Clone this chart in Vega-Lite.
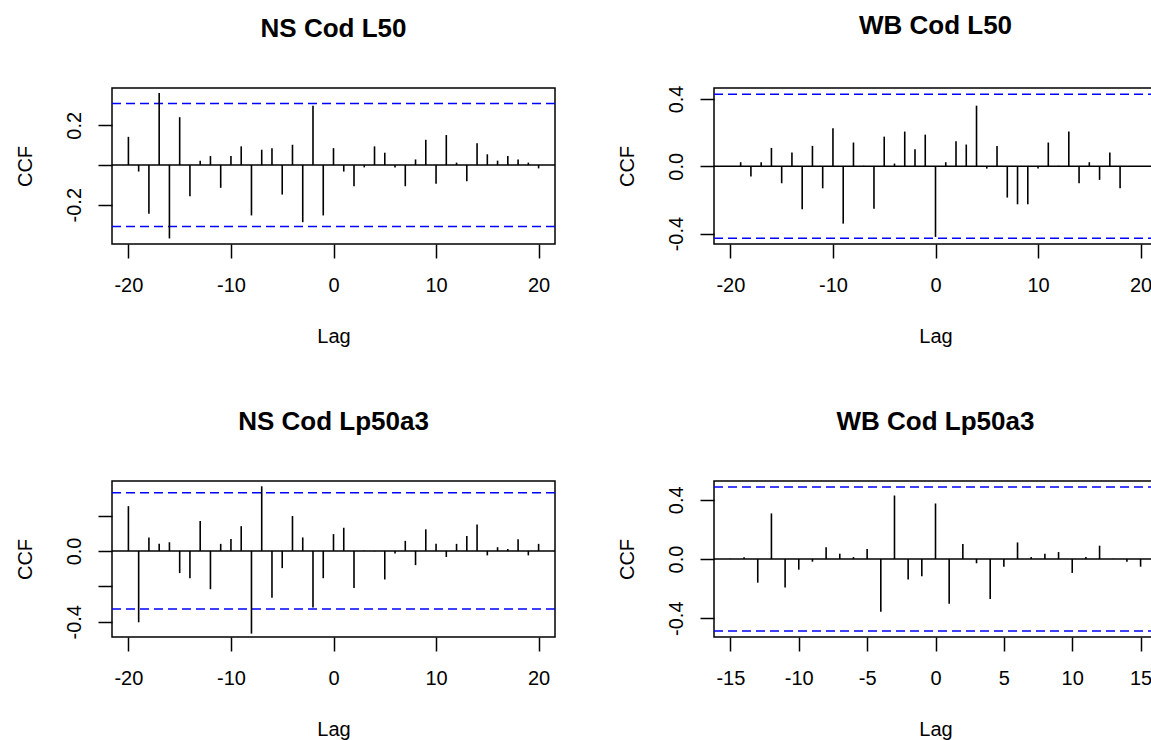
{
  "$schema": "https://vega.github.io/schema/vega-lite/v6.json",
  "autosize": {"type": "none"},
  "padding": {"left": 112, "top": 88, "right": 1039, "bottom": 652},
  "background": "white",
  "columns": 2,
  "spacing": {"row": 237, "column": 159},
  "bounds": "flush",
  "datasets": {
    "bars": [
      {"panel": "A", "lag": -20, "ccf": 0.142}, {"panel": "A", "lag": -19, "ccf": -0.033}, {"panel": "A", "lag": -18, "ccf": -0.246},
      {"panel": "A", "lag": -17, "ccf": 0.363}, {"panel": "A", "lag": -16, "ccf": -0.370}, {"panel": "A", "lag": -15, "ccf": 0.241},
      {"panel": "A", "lag": -14, "ccf": -0.157}, {"panel": "A", "lag": -13, "ccf": 0.022}, {"panel": "A", "lag": -12, "ccf": 0.045},
      {"panel": "A", "lag": -11, "ccf": -0.115}, {"panel": "A", "lag": -10, "ccf": 0.045}, {"panel": "A", "lag": -9, "ccf": 0.094},
      {"panel": "A", "lag": -8, "ccf": -0.254}, {"panel": "A", "lag": -7, "ccf": 0.077}, {"panel": "A", "lag": -6, "ccf": 0.085},
      {"panel": "A", "lag": -5, "ccf": -0.149}, {"panel": "A", "lag": -4, "ccf": 0.102}, {"panel": "A", "lag": -3, "ccf": -0.288},
      {"panel": "A", "lag": -2, "ccf": 0.298}, {"panel": "A", "lag": -1, "ccf": -0.254}, {"panel": "A", "lag": 0, "ccf": 0.085},
      {"panel": "A", "lag": 1, "ccf": -0.033}, {"panel": "A", "lag": 2, "ccf": -0.107}, {"panel": "A", "lag": 3, "ccf": -0.012},
      {"panel": "A", "lag": 4, "ccf": 0.094}, {"panel": "A", "lag": 5, "ccf": 0.062}, {"panel": "A", "lag": 6, "ccf": -0.012},
      {"panel": "A", "lag": 7, "ccf": -0.107}, {"panel": "A", "lag": 8, "ccf": 0.028}, {"panel": "A", "lag": 9, "ccf": 0.127},
      {"panel": "A", "lag": 10, "ccf": -0.094}, {"panel": "A", "lag": 11, "ccf": 0.151}, {"panel": "A", "lag": 12, "ccf": 0.012},
      {"panel": "A", "lag": 13, "ccf": -0.082}, {"panel": "A", "lag": 14, "ccf": 0.110}, {"panel": "A", "lag": 15, "ccf": 0.054},
      {"panel": "A", "lag": 16, "ccf": 0.022}, {"panel": "A", "lag": 17, "ccf": 0.045}, {"panel": "A", "lag": 18, "ccf": 0.028},
      {"panel": "A", "lag": 19, "ccf": 0.012}, {"panel": "A", "lag": 20, "ccf": -0.017},

      {"panel": "B", "lag": -19, "ccf": 0.024}, {"panel": "B", "lag": -18, "ccf": -0.061}, {"panel": "B", "lag": -17, "ccf": 0.024},
      {"panel": "B", "lag": -16, "ccf": 0.109}, {"panel": "B", "lag": -15, "ccf": -0.101}, {"panel": "B", "lag": -14, "ccf": 0.081},
      {"panel": "B", "lag": -13, "ccf": -0.255}, {"panel": "B", "lag": -12, "ccf": 0.121}, {"panel": "B", "lag": -11, "ccf": -0.131},
      {"panel": "B", "lag": -10, "ccf": 0.226}, {"panel": "B", "lag": -9, "ccf": -0.341}, {"panel": "B", "lag": -8, "ccf": 0.141},
      {"panel": "B", "lag": -7, "ccf": 0.003}, {"panel": "B", "lag": -6, "ccf": -0.253}, {"panel": "B", "lag": -5, "ccf": 0.176},
      {"panel": "B", "lag": -4, "ccf": 0.016}, {"panel": "B", "lag": -3, "ccf": 0.206}, {"panel": "B", "lag": -2, "ccf": 0.101},
      {"panel": "B", "lag": -1, "ccf": 0.188}, {"panel": "B", "lag": 0, "ccf": -0.420}, {"panel": "B", "lag": 1, "ccf": 0.024},
      {"panel": "B", "lag": 2, "ccf": 0.149}, {"panel": "B", "lag": 3, "ccf": 0.129}, {"panel": "B", "lag": 4, "ccf": 0.360},
      {"panel": "B", "lag": 5, "ccf": -0.014}, {"panel": "B", "lag": 6, "ccf": 0.121}, {"panel": "B", "lag": 7, "ccf": -0.186},
      {"panel": "B", "lag": 8, "ccf": -0.226}, {"panel": "B", "lag": 9, "ccf": -0.226}, {"panel": "B", "lag": 10, "ccf": -0.014},
      {"panel": "B", "lag": 11, "ccf": 0.141}, {"panel": "B", "lag": 12, "ccf": 0.003}, {"panel": "B", "lag": 13, "ccf": 0.206},
      {"panel": "B", "lag": 14, "ccf": -0.101}, {"panel": "B", "lag": 15, "ccf": 0.024}, {"panel": "B", "lag": 16, "ccf": -0.081},
      {"panel": "B", "lag": 17, "ccf": 0.081}, {"panel": "B", "lag": 18, "ccf": -0.131},

      {"panel": "C", "lag": -20, "ccf": 0.253}, {"panel": "C", "lag": -19, "ccf": -0.403}, {"panel": "C", "lag": -18, "ccf": 0.076},
      {"panel": "C", "lag": -17, "ccf": 0.040}, {"panel": "C", "lag": -16, "ccf": 0.049}, {"panel": "C", "lag": -15, "ccf": -0.125},
      {"panel": "C", "lag": -14, "ccf": -0.154}, {"panel": "C", "lag": -13, "ccf": 0.169}, {"panel": "C", "lag": -12, "ccf": -0.216},
      {"panel": "C", "lag": -11, "ccf": 0.040}, {"panel": "C", "lag": -10, "ccf": 0.068}, {"panel": "C", "lag": -9, "ccf": 0.140},
      {"panel": "C", "lag": -8, "ccf": -0.467}, {"panel": "C", "lag": -7, "ccf": 0.365}, {"panel": "C", "lag": -6, "ccf": -0.264},
      {"panel": "C", "lag": -5, "ccf": -0.097}, {"panel": "C", "lag": -4, "ccf": 0.197}, {"panel": "C", "lag": -3, "ccf": 0.076},
      {"panel": "C", "lag": -2, "ccf": -0.319}, {"panel": "C", "lag": -1, "ccf": -0.154}, {"panel": "C", "lag": 0, "ccf": 0.095},
      {"panel": "C", "lag": 1, "ccf": 0.131}, {"panel": "C", "lag": 2, "ccf": -0.209}, {"panel": "C", "lag": 3, "ccf": 0.002},
      {"panel": "C", "lag": 4, "ccf": -0.002}, {"panel": "C", "lag": 5, "ccf": -0.161}, {"panel": "C", "lag": 6, "ccf": -0.015},
      {"panel": "C", "lag": 7, "ccf": 0.057}, {"panel": "C", "lag": 8, "ccf": -0.080}, {"panel": "C", "lag": 9, "ccf": 0.122},
      {"panel": "C", "lag": 10, "ccf": 0.040}, {"panel": "C", "lag": 11, "ccf": -0.034}, {"panel": "C", "lag": 12, "ccf": 0.040},
      {"panel": "C", "lag": 13, "ccf": 0.085}, {"panel": "C", "lag": 14, "ccf": 0.150}, {"panel": "C", "lag": 15, "ccf": -0.025},
      {"panel": "C", "lag": 16, "ccf": 0.021}, {"panel": "C", "lag": 17, "ccf": 0.011}, {"panel": "C", "lag": 18, "ccf": 0.066},
      {"panel": "C", "lag": 19, "ccf": -0.025}, {"panel": "C", "lag": 20, "ccf": 0.040},

      {"panel": "D", "lag": -15, "ccf": 0.002}, {"panel": "D", "lag": -14, "ccf": 0.011}, {"panel": "D", "lag": -13, "ccf": -0.160},
      {"panel": "D", "lag": -12, "ccf": 0.308}, {"panel": "D", "lag": -11, "ccf": -0.193}, {"panel": "D", "lag": -10, "ccf": -0.072},
      {"panel": "D", "lag": -9, "ccf": -0.018}, {"panel": "D", "lag": -8, "ccf": 0.079}, {"panel": "D", "lag": -7, "ccf": 0.036},
      {"panel": "D", "lag": -6, "ccf": 0.013}, {"panel": "D", "lag": -5, "ccf": 0.067}, {"panel": "D", "lag": -4, "ccf": -0.357},
      {"panel": "D", "lag": -3, "ccf": 0.429}, {"panel": "D", "lag": -2, "ccf": -0.139}, {"panel": "D", "lag": -1, "ccf": -0.117},
      {"panel": "D", "lag": 0, "ccf": 0.375}, {"panel": "D", "lag": 1, "ccf": -0.303}, {"panel": "D", "lag": 2, "ccf": 0.101},
      {"panel": "D", "lag": 3, "ccf": -0.029}, {"panel": "D", "lag": 4, "ccf": -0.270}, {"panel": "D", "lag": 5, "ccf": -0.052},
      {"panel": "D", "lag": 6, "ccf": 0.112}, {"panel": "D", "lag": 7, "ccf": 0.013}, {"panel": "D", "lag": 8, "ccf": 0.036},
      {"panel": "D", "lag": 9, "ccf": 0.047}, {"panel": "D", "lag": 10, "ccf": -0.094}, {"panel": "D", "lag": 11, "ccf": 0.013},
      {"panel": "D", "lag": 12, "ccf": 0.090}, {"panel": "D", "lag": 13, "ccf": 0.002}, {"panel": "D", "lag": 14, "ccf": -0.018},
      {"panel": "D", "lag": 15, "ccf": -0.052}
    ],
    "ci": [
      {"panel": "A", "ci": 0.31}, {"panel": "A", "ci": -0.31},
      {"panel": "B", "ci": 0.428}, {"panel": "B", "ci": -0.428},
      {"panel": "C", "ci": 0.328}, {"panel": "C", "ci": -0.328},
      {"panel": "D", "ci": 0.487}, {"panel": "D", "ci": -0.487}
    ]
  },
  "concat": [
    {
      "title": "NS Cod L50",
      "width": 443, "height": 156,
      "layer": [
        {"data": {"name": "ci"}, "transform": [{"filter": "datum.panel == 'A' && datum.ci > 0"}],
         "mark": {"type": "rule", "color": "black", "strokeWidth": 1.5},
         "encoding": {"y": {"datum": 0, "type": "quantitative", "title": "CCF",
           "scale": {"domain": [-0.398, 0.388], "nice": false, "zero": false},
           "axis": {"values": [-0.2, 0, 0.2], "labelExpr": "datum.value == 0 ? '' : (datum.value < 0 ? '-' : '') + format(abs(datum.value), '.1f')"}}}},
        {"data": {"name": "ci"}, "transform": [{"filter": "datum.panel == 'A'"}],
         "mark": {"type": "rule", "color": "#0000FF", "strokeWidth": 1.5, "strokeDash": [9, 5]},
         "encoding": {"y": {"field": "ci", "type": "quantitative", "title": "CCF"}}},
        {"data": {"name": "bars"}, "transform": [{"filter": "datum.panel == 'A'"}],
         "mark": {"type": "rule", "color": "black", "strokeWidth": 1.6},
         "encoding": {
           "x": {"field": "lag", "type": "quantitative", "title": "Lag",
             "scale": {"domain": [-21.6, 21.6], "nice": false, "zero": false},
             "axis": {"values": [-20, -10, 0, 10, 20], "labelExpr": "(datum.value < 0 ? '-' : '') + abs(datum.value)"}},
           "y": {"field": "ccf", "type": "quantitative", "title": "CCF"},
           "y2": {"datum": 0}}}
      ]
    },
    {
      "title": "WB Cod L50",
      "width": 443, "height": 156,
      "layer": [
        {"data": {"name": "ci"}, "transform": [{"filter": "datum.panel == 'B' && datum.ci > 0"}],
         "mark": {"type": "rule", "color": "black", "strokeWidth": 1.5},
         "encoding": {"y": {"datum": 0, "type": "quantitative", "title": "CCF",
           "scale": {"domain": [-0.462, 0.465], "nice": false, "zero": false},
           "axis": {"values": [-0.4, -0.2, 0, 0.2, 0.4], "labelExpr": "abs(datum.value) == 0.2 ? '' : (datum.value < 0 ? '-' : '') + format(abs(datum.value), '.1f')"}}}},
        {"data": {"name": "ci"}, "transform": [{"filter": "datum.panel == 'B'"}],
         "mark": {"type": "rule", "color": "#0000FF", "strokeWidth": 1.5, "strokeDash": [9, 5]},
         "encoding": {"y": {"field": "ci", "type": "quantitative", "title": "CCF"}}},
        {"data": {"name": "bars"}, "transform": [{"filter": "datum.panel == 'B'"}],
         "mark": {"type": "rule", "color": "black", "strokeWidth": 1.6},
         "encoding": {
           "x": {"field": "lag", "type": "quantitative", "title": "Lag",
             "scale": {"domain": [-21.6, 21.6], "nice": false, "zero": false},
             "axis": {"values": [-20, -10, 0, 10, 20], "labelExpr": "(datum.value < 0 ? '-' : '') + abs(datum.value)"}},
           "y": {"field": "ccf", "type": "quantitative", "title": "CCF"},
           "y2": {"datum": 0}}}
      ]
    },
    {
      "title": "NS Cod Lp50a3",
      "width": 443, "height": 156,
      "layer": [
        {"data": {"name": "ci"}, "transform": [{"filter": "datum.panel == 'C' && datum.ci > 0"}],
         "mark": {"type": "rule", "color": "black", "strokeWidth": 1.5},
         "encoding": {"y": {"datum": 0, "type": "quantitative", "title": "CCF",
           "scale": {"domain": [-0.486, 0.395], "nice": false, "zero": false},
           "axis": {"values": [-0.4, -0.2, 0, 0.2], "labelExpr": "abs(datum.value) == 0.2 ? '' : (datum.value < 0 ? '-' : '') + format(abs(datum.value), '.1f')"}}}},
        {"data": {"name": "ci"}, "transform": [{"filter": "datum.panel == 'C'"}],
         "mark": {"type": "rule", "color": "#0000FF", "strokeWidth": 1.5, "strokeDash": [9, 5]},
         "encoding": {"y": {"field": "ci", "type": "quantitative", "title": "CCF"}}},
        {"data": {"name": "bars"}, "transform": [{"filter": "datum.panel == 'C'"}],
         "mark": {"type": "rule", "color": "black", "strokeWidth": 1.6},
         "encoding": {
           "x": {"field": "lag", "type": "quantitative", "title": "Lag",
             "scale": {"domain": [-21.6, 21.6], "nice": false, "zero": false},
             "axis": {"values": [-20, -10, 0, 10, 20], "labelExpr": "(datum.value < 0 ? '-' : '') + abs(datum.value)"}},
           "y": {"field": "ccf", "type": "quantitative", "title": "CCF"},
           "y2": {"datum": 0}}}
      ]
    },
    {
      "title": "WB Cod Lp50a3",
      "width": 443, "height": 156,
      "layer": [
        {"data": {"name": "ci"}, "transform": [{"filter": "datum.panel == 'D' && datum.ci > 0"}],
         "mark": {"type": "rule", "color": "black", "strokeWidth": 1.5},
         "encoding": {"y": {"datum": 0, "type": "quantitative", "title": "CCF",
           "scale": {"domain": [-0.527, 0.527], "nice": false, "zero": false},
           "axis": {"values": [-0.4, -0.2, 0, 0.2, 0.4], "labelExpr": "abs(datum.value) == 0.2 ? '' : (datum.value < 0 ? '-' : '') + format(abs(datum.value), '.1f')"}}}},
        {"data": {"name": "ci"}, "transform": [{"filter": "datum.panel == 'D'"}],
         "mark": {"type": "rule", "color": "#0000FF", "strokeWidth": 1.5, "strokeDash": [9, 5]},
         "encoding": {"y": {"field": "ci", "type": "quantitative", "title": "CCF"}}},
        {"data": {"name": "bars"}, "transform": [{"filter": "datum.panel == 'D'"}],
         "mark": {"type": "rule", "color": "black", "strokeWidth": 1.6},
         "encoding": {
           "x": {"field": "lag", "type": "quantitative", "title": "Lag",
             "scale": {"domain": [-16.2, 16.2], "nice": false, "zero": false},
             "axis": {"values": [-15, -10, -5, 0, 5, 10, 15], "labelExpr": "(datum.value < 0 ? '-' : '') + abs(datum.value)"}},
           "y": {"field": "ccf", "type": "quantitative", "title": "CCF"},
           "y2": {"datum": 0}}}
      ]
    }
  ],
  "config": {
    "font": "Liberation Sans",
    "view": {"stroke": "black", "strokeWidth": 1.5},
    "axis": {
      "grid": false, "domain": false,
      "tickColor": "black", "tickWidth": 1.5, "tickSize": 14,
      "labelFont": "Liberation Sans", "labelFontSize": 20, "labelColor": "black",
      "labelOverlap": false, "labelFlush": false, "labelBound": false,
      "titleFont": "Liberation Sans", "titleFontSize": 20, "titleFontWeight": "normal", "titleColor": "black"
    },
    "axisX": {
      "labelAngle": 0, "labelAlign": "center", "labelBaseline": "alphabetic", "labelPadding": 33,
      "titleBaseline": "alphabetic", "titleAlign": "center", "titleX": 221.5, "titleY": 98
    },
    "axisY": {
      "labelAngle": -90, "labelAlign": "center", "labelBaseline": "alphabetic", "labelPadding": 17.5,
      "titleAngle": -90, "titleBaseline": "alphabetic", "titleAlign": "center", "titleX": -81, "titleY": 78
    },
    "title": {
      "font": "Liberation Sans", "fontSize": 26, "fontWeight": "bold", "color": "black",
      "anchor": "middle", "baseline": "alphabetic", "offset": 46
    }
  }
}
